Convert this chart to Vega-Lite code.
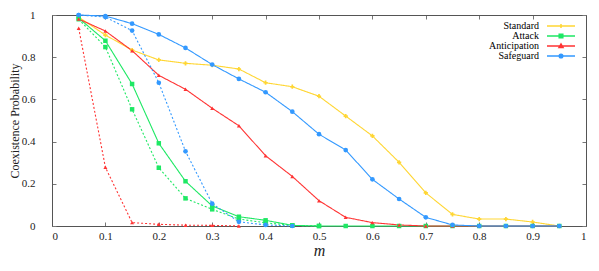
{
  "$schema": "https://vega.github.io/schema/vega-lite/v6.json",
  "width": 534,
  "height": 211,
  "autosize": {"type": "none"},
  "padding": {"left": 52, "top": 15, "right": 13, "bottom": 45},
  "background": "white",
  "config": {
    "font": "Liberation Serif, Times New Roman, serif",
    "view": {"stroke": null},
    "legend": {"labelFont": "Liberation Serif, Times New Roman, serif"},
    "axis": {"domainColor": "#555", "tickColor": "#777", "labelFont": "Liberation Serif, Times New Roman, serif", "titleFont": "Liberation Serif, Times New Roman, serif", "labelFontSize": 11, "labelColor": "#222", "titleColor": "#222", "titleFontWeight": "normal", "grid": false}
  },
  "datasets": {
    "main": [
      {"m":0.05,"p":0.99,"series":"Standard","style":"solid"},
      {"m":0.10,"p":0.905,"series":"Standard","style":"solid"},
      {"m":0.15,"p":0.834,"series":"Standard","style":"solid"},
      {"m":0.20,"p":0.787,"series":"Standard","style":"solid"},
      {"m":0.25,"p":0.771,"series":"Standard","style":"solid"},
      {"m":0.30,"p":0.762,"series":"Standard","style":"solid"},
      {"m":0.35,"p":0.744,"series":"Standard","style":"solid"},
      {"m":0.40,"p":0.679,"series":"Standard","style":"solid"},
      {"m":0.45,"p":0.660,"series":"Standard","style":"solid"},
      {"m":0.50,"p":0.615,"series":"Standard","style":"solid"},
      {"m":0.55,"p":0.521,"series":"Standard","style":"solid"},
      {"m":0.60,"p":0.427,"series":"Standard","style":"solid"},
      {"m":0.65,"p":0.302,"series":"Standard","style":"solid"},
      {"m":0.70,"p":0.157,"series":"Standard","style":"solid"},
      {"m":0.75,"p":0.055,"series":"Standard","style":"solid"},
      {"m":0.80,"p":0.033,"series":"Standard","style":"solid"},
      {"m":0.85,"p":0.033,"series":"Standard","style":"solid"},
      {"m":0.90,"p":0.019,"series":"Standard","style":"solid"},
      {"m":0.95,"p":0.0,"series":"Standard","style":"solid"},

      {"m":0.05,"p":0.985,"series":"Attack","style":"solid"},
      {"m":0.10,"p":0.878,"series":"Attack","style":"solid"},
      {"m":0.15,"p":0.673,"series":"Attack","style":"solid"},
      {"m":0.20,"p":0.392,"series":"Attack","style":"solid"},
      {"m":0.25,"p":0.212,"series":"Attack","style":"solid"},
      {"m":0.30,"p":0.095,"series":"Attack","style":"solid"},
      {"m":0.35,"p":0.044,"series":"Attack","style":"solid"},
      {"m":0.40,"p":0.027,"series":"Attack","style":"solid"},
      {"m":0.45,"p":0.003,"series":"Attack","style":"solid"},
      {"m":0.50,"p":0.0,"series":"Attack","style":"solid"},
      {"m":0.55,"p":0.0,"series":"Attack","style":"solid"},
      {"m":0.60,"p":0.0,"series":"Attack","style":"solid"},
      {"m":0.65,"p":0.0,"series":"Attack","style":"solid"},
      {"m":0.70,"p":0.0,"series":"Attack","style":"solid"},
      {"m":0.75,"p":0.0,"series":"Attack","style":"solid"},
      {"m":0.80,"p":0.0,"series":"Attack","style":"solid"},
      {"m":0.85,"p":0.0,"series":"Attack","style":"solid"},
      {"m":0.90,"p":0.0,"series":"Attack","style":"solid"},
      {"m":0.95,"p":0.0,"series":"Attack","style":"solid"},

      {"m":0.05,"p":0.981,"series":"Anticipation","style":"solid"},
      {"m":0.10,"p":0.924,"series":"Anticipation","style":"solid"},
      {"m":0.15,"p":0.831,"series":"Anticipation","style":"solid"},
      {"m":0.20,"p":0.714,"series":"Anticipation","style":"solid"},
      {"m":0.25,"p":0.648,"series":"Anticipation","style":"solid"},
      {"m":0.30,"p":0.558,"series":"Anticipation","style":"solid"},
      {"m":0.35,"p":0.475,"series":"Anticipation","style":"solid"},
      {"m":0.40,"p":0.333,"series":"Anticipation","style":"solid"},
      {"m":0.45,"p":0.235,"series":"Anticipation","style":"solid"},
      {"m":0.50,"p":0.120,"series":"Anticipation","style":"solid"},
      {"m":0.55,"p":0.041,"series":"Anticipation","style":"solid"},
      {"m":0.60,"p":0.016,"series":"Anticipation","style":"solid"},
      {"m":0.65,"p":0.005,"series":"Anticipation","style":"solid"},
      {"m":0.70,"p":0.0,"series":"Anticipation","style":"solid"},
      {"m":0.75,"p":0.0,"series":"Anticipation","style":"solid"},
      {"m":0.80,"p":0.0,"series":"Anticipation","style":"solid"},
      {"m":0.85,"p":0.0,"series":"Anticipation","style":"solid"},
      {"m":0.90,"p":0.0,"series":"Anticipation","style":"solid"},
      {"m":0.95,"p":0.0,"series":"Anticipation","style":"solid"},

      {"m":0.05,"p":1.0,"series":"Safeguard","style":"solid"},
      {"m":0.10,"p":0.995,"series":"Safeguard","style":"solid"},
      {"m":0.15,"p":0.959,"series":"Safeguard","style":"solid"},
      {"m":0.20,"p":0.908,"series":"Safeguard","style":"solid"},
      {"m":0.25,"p":0.844,"series":"Safeguard","style":"solid"},
      {"m":0.30,"p":0.765,"series":"Safeguard","style":"solid"},
      {"m":0.35,"p":0.697,"series":"Safeguard","style":"solid"},
      {"m":0.40,"p":0.634,"series":"Safeguard","style":"solid"},
      {"m":0.45,"p":0.542,"series":"Safeguard","style":"solid"},
      {"m":0.50,"p":0.435,"series":"Safeguard","style":"solid"},
      {"m":0.55,"p":0.360,"series":"Safeguard","style":"solid"},
      {"m":0.60,"p":0.221,"series":"Safeguard","style":"solid"},
      {"m":0.65,"p":0.128,"series":"Safeguard","style":"solid"},
      {"m":0.70,"p":0.041,"series":"Safeguard","style":"solid"},
      {"m":0.75,"p":0.005,"series":"Safeguard","style":"solid"},
      {"m":0.80,"p":0.0,"series":"Safeguard","style":"solid"},
      {"m":0.85,"p":0.0,"series":"Safeguard","style":"solid"},
      {"m":0.90,"p":0.0,"series":"Safeguard","style":"solid"},
      {"m":0.95,"p":0.0,"series":"Safeguard","style":"solid"},

      {"m":0.05,"p":0.98,"series":"Attack","style":"dashed"},
      {"m":0.10,"p":0.848,"series":"Attack","style":"dashed"},
      {"m":0.15,"p":0.553,"series":"Attack","style":"dashed"},
      {"m":0.20,"p":0.276,"series":"Attack","style":"dashed"},
      {"m":0.25,"p":0.131,"series":"Attack","style":"dashed"},
      {"m":0.30,"p":0.079,"series":"Attack","style":"dashed"},
      {"m":0.35,"p":0.033,"series":"Attack","style":"dashed"},
      {"m":0.40,"p":0.015,"series":"Attack","style":"dashed"},
      {"m":0.45,"p":0.003,"series":"Attack","style":"dashed"},
      {"m":0.50,"p":0.0,"series":"Attack","style":"dashed"},

      {"m":0.05,"p":0.937,"series":"Anticipation","style":"dashed"},
      {"m":0.10,"p":0.278,"series":"Anticipation","style":"dashed"},
      {"m":0.15,"p":0.016,"series":"Anticipation","style":"dashed"},
      {"m":0.20,"p":0.008,"series":"Anticipation","style":"dashed"},
      {"m":0.25,"p":0.004,"series":"Anticipation","style":"dashed"},
      {"m":0.30,"p":0.003,"series":"Anticipation","style":"dashed"},
      {"m":0.35,"p":0.0,"series":"Anticipation","style":"dashed"},

      {"m":0.05,"p":1.0,"series":"Safeguard","style":"dashed"},
      {"m":0.10,"p":0.99,"series":"Safeguard","style":"dashed"},
      {"m":0.15,"p":0.926,"series":"Safeguard","style":"dashed"},
      {"m":0.20,"p":0.679,"series":"Safeguard","style":"dashed"},
      {"m":0.25,"p":0.354,"series":"Safeguard","style":"dashed"},
      {"m":0.30,"p":0.106,"series":"Safeguard","style":"dashed"},
      {"m":0.35,"p":0.020,"series":"Safeguard","style":"dashed"},
      {"m":0.40,"p":0.005,"series":"Safeguard","style":"dashed"},
      {"m":0.45,"p":0.0,"series":"Safeguard","style":"dashed"}
    ]
  },
  "data": {"name": "main"},
  "layer": [
    {
      "mark": {"type": "line", "strokeWidth": 1.1},
      "encoding": {
        "x": {"field": "m", "type": "quantitative", "scale": {"domain": [0, 1], "nice": false},
              "axis": {"values": [0,0.1,0.2,0.3,0.4,0.5,0.6,0.7,0.8,0.9,1], "format": "~g", "tickSize": -4, "labelPadding": 8, "title": "m", "titleFontStyle": "italic", "titleFontSize": 16, "titlePadding": 1}},
        "y": {"field": "p", "type": "quantitative", "scale": {"domain": [0, 1], "nice": false},
              "axis": {"values": [0,0.2,0.4,0.6,0.8,1], "format": "~g", "tickSize": -4, "labelPadding": 21, "title": "Coexistence Probability", "titleFontSize": 12, "titlePadding": 0}},
        "color": {"field": "series", "type": "nominal",
                  "scale": {"domain": ["Standard","Attack","Anticipation","Safeguard"], "range": ["#ffd633","#1ee864","#ff3333","#3399ff"]},
                  "legend": {"title": null, "orient": "none", "legendX": 504, "legendY": 6, "symbolType": "M-3.5,0H3.5", "symbolSize": 64, "symbolStrokeWidth": 1.5, "labelAlign": "right", "labelOffset": -27, "labelFontSize": 10, "rowPadding": -1, "padding": 0,
                             "encode": {"symbols": {"update": {
                               "shape": {"signal": "datum.value === 'Standard' ? 'M-3.5,0H3.5M0,-0.5V0.5' : datum.value === 'Attack' ? 'M-3.5,0H3.5M-0.45,-0.45H0.45V0.45H-0.45Z' : datum.value === 'Anticipation' ? 'M-3.5,0H3.5M-0.5,0.38L0,-0.5L0.5,0.38Z' : 'M-3.5,0H3.5M-0.45,0A0.45,0.45,0,1,0,0.45,0A0.45,0.45,0,1,0,-0.45,0Z'"},
                               "fill": {"signal": "scale('color', datum.value)"}
                             }}}}},
        "strokeDash": {"field": "style", "type": "nominal", "scale": {"domain": ["solid","dashed"], "range": [[1,0],[2,2]]}, "legend": null},
        "detail": {"field": "style"}
      }
    },
    {
      "transform": [{"filter": "datum.series === 'Standard'"}],
      "mark": {"type": "point", "shape": "cross", "filled": true, "opacity": 1, "size": 18, "color": "#ffd633"},
      "encoding": {
        "x": {"field": "m", "type": "quantitative", "axis": null},
        "y": {"field": "p", "type": "quantitative", "axis": null}
      }
    },
    {
      "transform": [{"filter": "datum.series === 'Attack'"}],
      "mark": {"type": "point", "shape": "square", "filled": true, "opacity": 1, "size": 20, "color": "#1ee864"},
      "encoding": {
        "x": {"field": "m", "type": "quantitative", "axis": null},
        "y": {"field": "p", "type": "quantitative", "axis": null}
      }
    },
    {
      "transform": [{"filter": "datum.series === 'Anticipation'"}],
      "mark": {"type": "point", "shape": "triangle-up", "filled": true, "opacity": 1, "size": 16, "color": "#ff3333"},
      "encoding": {
        "x": {"field": "m", "type": "quantitative", "axis": null},
        "y": {"field": "p", "type": "quantitative", "axis": null}
      }
    },
    {
      "transform": [{"filter": "datum.series === 'Safeguard'"}],
      "mark": {"type": "point", "shape": "circle", "filled": true, "opacity": 1, "size": 22, "color": "#3399ff"},
      "encoding": {
        "x": {"field": "m", "type": "quantitative", "axis": null},
        "y": {"field": "p", "type": "quantitative", "axis": null}
      }
    },
    {
      "mark": {"type": "point", "opacity": 0},
      "encoding": {
        "x": {"field": "m", "type": "quantitative", "axis": {"orient": "top", "values": [0,0.1,0.2,0.3,0.4,0.5,0.6,0.7,0.8,0.9,1], "labels": false, "tickSize": -4, "title": null}},
        "y": {"field": "p", "type": "quantitative", "axis": {"orient": "right", "values": [0,0.2,0.4,0.6,0.8,1], "labels": false, "tickSize": -4, "title": null}}
      }
    }
  ],
  "resolve": {"axis": {"x": "independent", "y": "independent"}}
}
